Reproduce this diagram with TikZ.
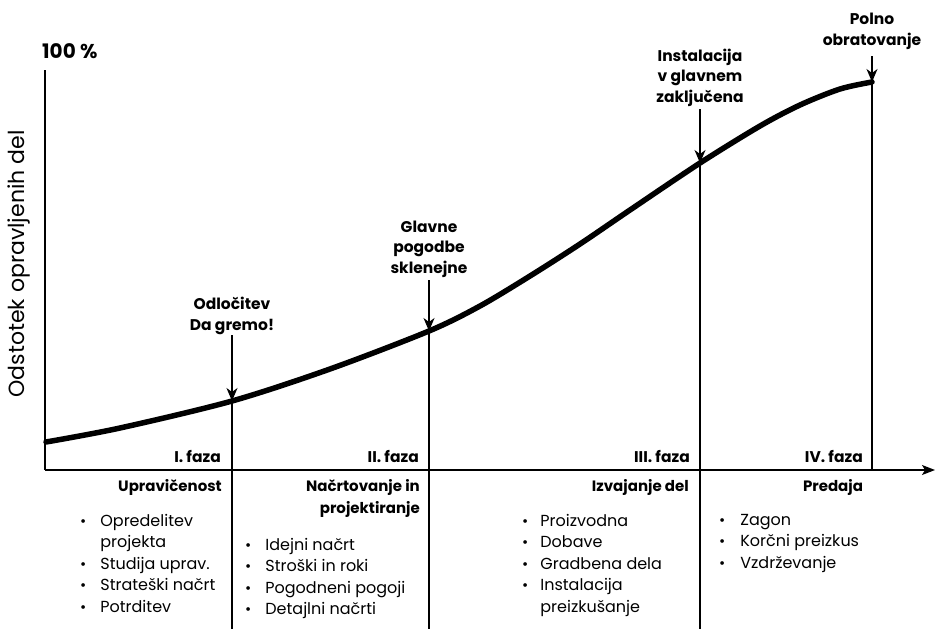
\documentclass[tikz,border=0pt]{standalone}
\usepackage{fontspec}
\setmainfont{Poppins}
\usetikzlibrary{arrows.meta}
\newcommand{\bul}{{\fontsize{15}{15}\selectfont\textbullet}}
\begin{document}
\begin{tikzpicture}[x=1pt,y=-1pt,
  axisline/.style={line width=1.4pt},
  vline/.style={line width=1.2pt},
  marker/.style={vline,-{Stealth[length=13pt,width=11pt,inset=4pt]}},
  curveline/.style={line width=5.5pt,line cap=round},
  toplbl/.style={font=\fontsize{15.5}{20.5}\selectfont\bfseries,align=center,inner sep=0pt,anchor=base},
  faza/.style={font=\fontsize{15.5}{18}\selectfont\bfseries,anchor=base east,inner sep=0pt},
  head/.style={font=\fontsize{15}{22}\selectfont\bfseries,inner sep=0pt},
  items/.style={font=\fontsize{16}{21.6}\selectfont,inner sep=0pt,anchor=base west}
]
\useasboundingbox (0,0) rectangle (936,629);

% axes
\coordinate (O) at (45,470);
\coordinate (ytop) at (45,70);
\coordinate (xend) at (935,470);
\draw[axisline] (ytop) -- (O);
\draw[axisline,-{Stealth[length=13pt,width=10pt,inset=3pt]}] (O) -- (xend);

\node[font=\fontsize{20}{22}\selectfont\bfseries,anchor=base west,inner sep=0pt] (hundred) at (42,58) {100 \%};
\node[font=\fontsize{22}{24}\selectfont,rotate=90,inner sep=0pt] (ylabel) at (19,264) {Odstotek opravljenih del};

% curve
\coordinate (c1) at (232,401);
\coordinate (c2) at (429,331);
\coordinate (c3) at (700,163);
\coordinate (c4) at (872,82);
\draw[curveline] plot[smooth,tension=0.5] coordinates {(46,442) (120,428) (c1) (330,369) (c2) (480,306) (530,276) (580,244) (630,210) (c3) (760,126) (800,105) (840,89) (c4)};

% milestone labels (base = last line)
\node[toplbl] (m1) at (232,330) {Odločitev\\Da gremo!};
\node[toplbl] (m2) at (429,273) {Glavne\\pogodbe\\sklenejne};
\node[toplbl] (m3) at (700,102) {Instalacija\\v glavnem\\zaključena};
\node[toplbl] (m4) at (872,45) {Polno\\obratovanje};

\coordinate (t1) at (232,335);
\coordinate (t2) at (429,280);
\coordinate (t3) at (700,109);
\coordinate (t4) at (872,56);
\coordinate (b1) at (232,629);
\coordinate (b2) at (429,629);
\coordinate (b3) at (700,629);
\coordinate (b4) at (872,470);

\draw[marker] (t1) -- (c1);
\draw[marker] (t2) -- (c2);
\draw[marker] (t3) -- (c3);
\draw[marker] (t4) -- (c4);
\draw[vline] (c1) -- (b1);
\draw[vline] (c2) -- (b2);
\draw[vline] (c3) -- (b3);
\draw[vline] (c4) -- (b4);

% phases
\node[faza] (f1) at (221,462) {I. faza};
\node[faza] (f2) at (419,462) {II. faza};
\node[faza] (f3) at (690,462) {III. faza};
\node[faza] (f4) at (863,462) {IV. faza};

% headings
\node[head,anchor=base east] (h1) at (222,491) {Upravičenost};
\node[head,anchor=base east,align=right] (h2) at (420,513) {Načrtovanje in\\projektiranje};
\node[head,anchor=base east] (h3) at (689,491) {Izvajanje del};
\node[head,anchor=base] (h4) at (833,491) {Predaja};

% lists
\node[items] (l1) at (80,526) {\begin{tabular}[t]{@{}l@{\hspace{14pt}}l@{}}
\bul & Opredelitev\\
 & projekta\\
\bul & Studija uprav.\\
\bul & Strateški načrt\\
\bul & Potrditev
\end{tabular}};
\node[items] (l2) at (245,550) {\begin{tabular}[t]{@{}l@{\hspace{14pt}}l@{}}
\bul & Idejni načrt\\
\bul & Stroški in roki\\
\bul & Pogodneni pogoji\\
\bul & Detajlni načrti
\end{tabular}};
\node[items] (l3) at (522,526) {\begin{tabular}[t]{@{}l@{\hspace{12pt}}l@{}}
\bul & Proizvodna\\
\bul & Dobave\\
\bul & Gradbena dela\\
\bul & Instalacija\\
 & preizkušanje
\end{tabular}};
\node[items] (l4) at (719,525) {\begin{tabular}[t]{@{}l@{\hspace{15pt}}l@{}}
\bul & Zagon\\
\bul & Korčni preizkus\\
\bul & Vzdrževanje
\end{tabular}};
\end{tikzpicture}
\end{document}
